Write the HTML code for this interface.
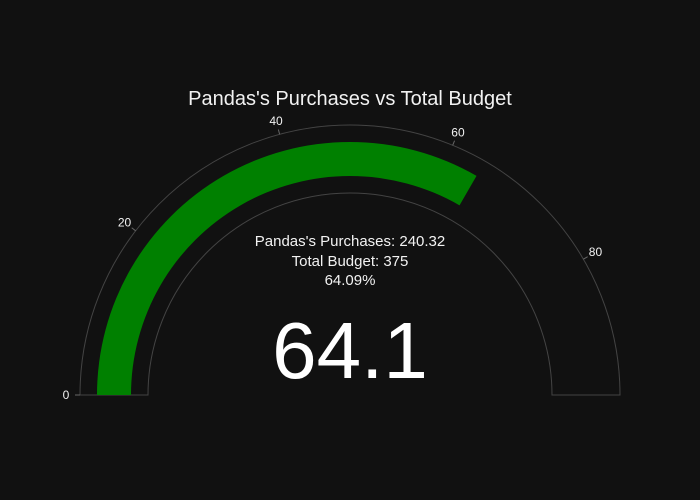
<!DOCTYPE html>
<html><head><meta charset="utf-8"><style>
html,body{margin:0;padding:0;background:#111111;}
svg{display:block;font-family:"Liberation Sans",Arial,sans-serif;}
</style></head><body>
<svg id="chart" width="700" height="500">
<rect width="700" height="500" fill="#111111"/>
<text x="350" y="105" fill="#f2f2f2" font-size="20" text-anchor="middle">Pandas's Purchases vs Total Budget</text>
<g id="gauge"></g>
<text x="350" y="246" fill="#f2f2f2" font-size="15" text-anchor="middle">Pandas's Purchases: 240.32</text>
<text x="350" y="266" fill="#f2f2f2" font-size="15" text-anchor="middle">Total Budget: 375</text>
<text x="350" y="285" fill="#f2f2f2" font-size="15" text-anchor="middle">64.09%</text>
<text id="bignum" x="350" y="378" fill="#ffffff" font-size="80" text-anchor="middle">64.1</text>
</svg>
<script>
const gaugeValue = [64.09];
const gaugeRange = [0, 96.13];
const tickValues = [0, 20, 40, 60, 80];
const tickLabels = ["0", "20", "40", "60", "80"];

const cx = 350, cy = 395, rOut = 270, rIn = 202, barOut = 253, barIn = 219;
const NS = "http://www.w3.org/2000/svg";
const g = document.getElementById("gauge");
function ang(v){ return Math.PI - (v - gaugeRange[0]) / (gaugeRange[1] - gaugeRange[0]) * Math.PI; }
function pt(r, a){ return [cx + r*Math.cos(a), cy - r*Math.sin(a)]; }
function arcPath(r1, r2, a0, a1){
  const p0=pt(r2,a0), p1=pt(r2,a1), p2=pt(r1,a1), p3=pt(r1,a0);
  const large = (a0-a1) > Math.PI ? 1 : 0;
  return `M${p0[0]},${p0[1]} A${r2},${r2} 0 ${large} 1 ${p1[0]},${p1[1]} L${p2[0]},${p2[1]} A${r1},${r1} 0 ${large} 0 ${p3[0]},${p3[1]} Z`;
}
const bg = document.createElementNS(NS,"path");
bg.setAttribute("d", arcPath(rIn, rOut, ang(gaugeRange[0]), ang(gaugeRange[1])));
bg.setAttribute("fill","#111111"); bg.setAttribute("stroke","#444"); bg.setAttribute("stroke-width","1");


g.appendChild(bg);
const bar = document.createElementNS(NS,"path");
bar.setAttribute("d", arcPath(barIn, barOut, ang(gaugeRange[0]), ang(gaugeValue[0])));
bar.setAttribute("fill","#008000");


g.appendChild(bar);
tickValues.forEach((v,i)=>{
  const a = ang(v);
  const p1 = pt(rOut, a), p2 = pt(rOut+5, a), pl = pt(rOut+14, a);
  const ln = document.createElementNS(NS,"line");
  ln.setAttribute("x1",p1[0]); ln.setAttribute("y1",p1[1]);
  ln.setAttribute("x2",p2[0]); ln.setAttribute("y2",p2[1]);
  ln.setAttribute("stroke","#666");
  
  
  g.appendChild(ln);
  const t = document.createElementNS(NS,"text");
  t.setAttribute("x", pl[0]); t.setAttribute("y", pl[1]+4);
  t.setAttribute("fill","#f2f2f2"); t.setAttribute("font-size","12");
  t.setAttribute("text-anchor","middle");
  t.textContent = tickLabels[i];
  
  
  g.appendChild(t);
});
document.getElementById("bignum").textContent = gaugeValue[0].toFixed(1);
</script>
</body></html>
